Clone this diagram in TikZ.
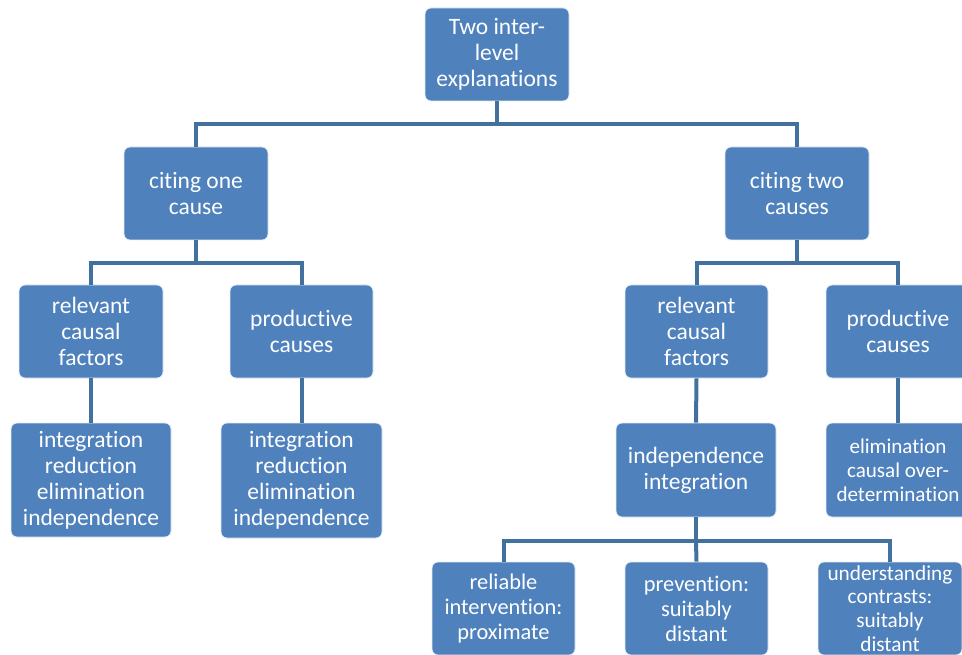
\documentclass[tikz,border=0pt]{standalone}
\usepackage{fontspec}
\setmainfont[Ligatures={NoCommon}]{Carlito}
\definecolor{boxfill}{HTML}{4F81BD}
\definecolor{linecol}{HTML}{41719C}
\begin{document}
\begin{tikzpicture}[x=1pt,y=-1pt,
  box/.style={rectangle, rounded corners=6pt, fill=boxfill, draw=white!85!boxfill, line width=0.8pt,
    text=white, align=center, inner sep=0pt, font=\fontsize{23.5}{26}\selectfont},
  smallbox/.style={box, font=\fontsize{22.4}{25}\selectfont},
  tinybox/.style={box, font=\fontsize{21.3}{23.7}\selectfont},
  elimbox/.style={box, font=\fontsize{21.1}{24}\selectfont},
  conn/.style={draw=linecol, line width=4pt}]
\useasboundingbox (0,0) rectangle (962,655);
\clip (0,0) rectangle (962,655);
\node[box, minimum width=144pt, minimum height=93pt] (top) at (497,54.5) {Two inter-\\level\\explanations};
\node[box, minimum width=144pt, minimum height=93pt] (one) at (196,193.5) {citing one\\cause};
\node[box, minimum width=144pt, minimum height=93pt] (two) at (797,193.5) {citing two\\causes};
\node[box, minimum width=144pt, minimum height=93pt] (relL) at (91,331.5) {relevant\\causal\\factors};
\node[box, minimum width=143pt, minimum height=93pt] (prodL) at (301.5,331.5) {productive\\causes};
\node[box, minimum width=143pt, minimum height=93pt] (relR) at (696.5,331.5) {relevant\\causal\\factors};
\node[box, minimum width=144pt, minimum height=93pt] (prodR) at (898,331.5) {productive\\causes};
\node[box, minimum width=160pt, minimum height=114pt] (intL) at (91,480) {integration\\reduction\\elimination\\independence};
\node[box, minimum width=161pt, minimum height=115pt] (intL2) at (301.5,480.5) {integration\\reduction\\elimination\\independence};
\node[box, minimum width=160pt, minimum height=94pt] (indep) at (696,470) {independence\\integration};
\node[elimbox, minimum width=144pt, minimum height=94pt] (elim) at (898,470) {elimination\\causal over-\\determination};
\node[smallbox, minimum width=143pt, minimum height=93pt] (rel) at (503.5,608.5) {reliable\\intervention:\\proximate};
\node[smallbox, minimum width=143pt, minimum height=93pt] (prev) at (696.5,608.5) {prevention:\\suitably\\distant};
\node[tinybox, minimum width=144pt, minimum height=93pt] (und) at (890,608.5) {understanding\\contrasts:\\suitably\\distant};
\coordinate (b1) at (0,124);
\coordinate (b2) at (0,263);
\coordinate (b3) at (0,541);
\path[conn] (top.south) -- (top.south |- b1) -| (one.north);
\path[conn] (top.south |- b1) -| (two.north);
\path[conn] (one.south) -- (one.south |- b2) -| (relL.north);
\path[conn] (one.south |- b2) -| (prodL.north);
\path[conn] (two.south) -- (two.south |- b2) -| (relR.north);
\path[conn] (two.south |- b2) -| (prodR.north);
\path[conn] (relL.south) -- (intL.north);
\path[conn] (prodL.south) -- (intL2.north);
\path[conn] (relR.south) -- (indep.north);
\path[conn] (prodR.south) -- (elim.north);
\path[conn] (indep.south) -- (indep.south |- b3) -| (rel.north);
\path[conn] (indep.south |- b3) -- (prev.north);
\path[conn] (indep.south |- b3) -| (und.north);
\end{tikzpicture}
\end{document}
